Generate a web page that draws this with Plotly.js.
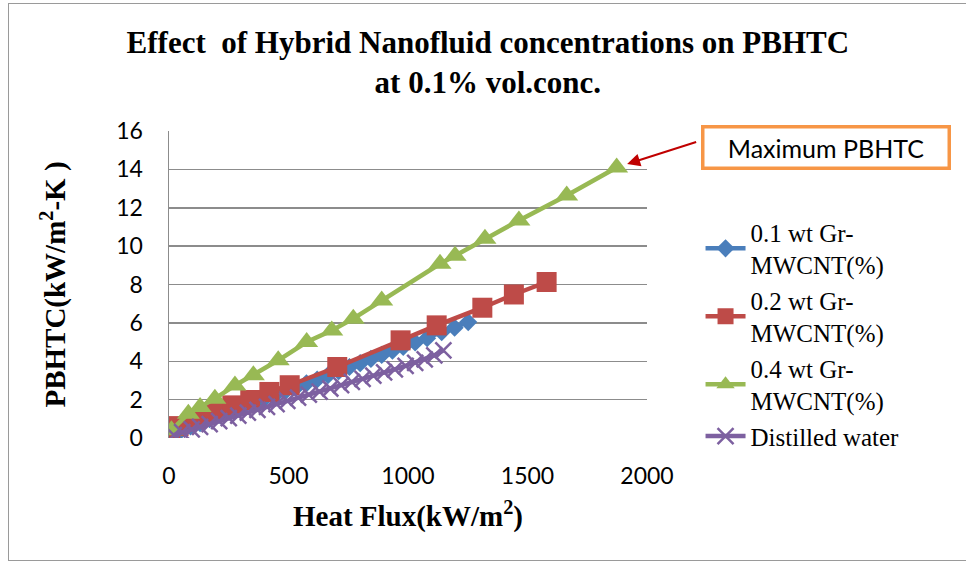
<!DOCTYPE html>
<html>
<head>
<meta charset="utf-8">
<script src="https://cdn.plot.ly/plotly-3.0.1.min.js"></script>
<style>
  body { margin: 0; padding: 0; background: #fff; }
  #chart { width: 966px; height: 563px; position: relative; }
  #frame { position: absolute; left: 8px; top: 3px; width: 966px; height: 558px;
           border-left: 1.5px solid #9a9a9a; border-top: 1.5px solid #9a9a9a; border-bottom: 1.5px solid #9a9a9a;
           pointer-events: none; box-sizing: border-box; }
</style>
</head>
<body>
<div id="chart"></div>
<div id="frame"></div>
<script>
// 0.1 wt Gr-MWCNT(%)
const blueX = [15, 50, 90, 130, 170, 215, 260, 305, 350, 395, 440, 485, 530, 575, 620, 665, 710, 755, 800, 845, 890, 935, 980, 1030, 1080, 1141, 1195, 1252];
const blueY = [0.25, 0.4, 0.6, 0.78, 0.98, 1.18, 1.38, 1.58, 1.78, 2.0, 2.2, 2.42, 2.62, 2.85, 3.05, 3.27, 3.48, 3.7, 3.9, 4.12, 4.33, 4.55, 4.75, 4.98, 5.2, 5.52, 5.75, 6.04];
// 0.2 wt Gr-MWCNT(%)
const redX = [5, 40, 110, 190, 265, 340, 420, 505, 704, 969, 1120, 1311, 1443, 1580];
const redY = [0.35, 0.62, 1.0, 1.35, 1.7, 1.98, 2.4, 2.75, 3.7, 5.09, 5.87, 6.79, 7.48, 8.13];
// 0.4 wt Gr-MWCNT(%)
const greenX = [10, 81, 130, 192, 276, 353, 457, 576, 681, 771, 890, 1134, 1197, 1322, 1464, 1664, 1873];
const greenY = [0.4, 1.27, 1.62, 2.05, 2.74, 3.27, 4.05, 5.0, 5.6, 6.22, 7.17, 9.08, 9.5, 10.38, 11.34, 12.64, 14.1];
// Distilled water
const purpleX = [20, 55, 95, 130, 170, 210, 250, 290, 330, 370, 410, 450, 495, 540, 585, 630, 675, 720, 765, 810, 855, 900, 945, 990, 1030, 1070, 1110, 1148];
const purpleY = [0.15, 0.3, 0.45, 0.58, 0.72, 0.88, 1.03, 1.17, 1.32, 1.47, 1.62, 1.77, 1.93, 2.1, 2.26, 2.42, 2.58, 2.75, 2.92, 3.08, 3.25, 3.42, 3.58, 3.76, 3.92, 4.1, 4.3, 4.57];

const seriesNames = ["0.1 wt Gr-<br>MWCNT(%)", "0.2 wt Gr-<br>MWCNT(%)", "0.4 wt Gr-<br>MWCNT(%)", "Distilled water"];
const xTickVals = [0, 500, 1000, 1500, 2000];
const yTickVals = [0, 2, 4, 6, 8, 10, 12, 14, 16];

const traces = [
  { x: blueX, y: blueY, name: seriesNames[0], mode: 'lines+markers',
    line: { color: '#4A7EBB', width: 4.5 },
    marker: { symbol: 'diamond', size: 14, color: '#4A7EBB' } },
  { x: redX, y: redY, name: seriesNames[1], mode: 'lines+markers',
    line: { color: '#BE4B48', width: 4.5 },
    marker: { symbol: 'square', size: 20, color: '#BE4B48' } },
  { x: greenX, y: greenY, name: seriesNames[2], mode: 'lines+markers',
    line: { color: '#98B954', width: 4.5 },
    marker: { symbol: 'triangle-up', size: 20, color: '#98B954' } },
  { x: purpleX, y: purpleY, name: seriesNames[3], mode: 'lines+markers',
    line: { color: '#7D60A0', width: 4.5 },
    marker: { symbol: 'x-thin', size: 16, color: '#7D60A0', line: { color: '#7D60A0', width: 2.5 } } }
];

const layout = {
  width: 966, height: 563,
  margin: { l: 169, r: 319, t: 131, b: 125 },
  paper_bgcolor: '#fff', plot_bgcolor: '#fff',
  showlegend: true,
  title: {
    text: '<b>Effect&nbsp; of Hybrid Nanofluid concentrations on PBHTC<br>at 0.1% vol.conc.</b>',
    font: { family: 'Liberation Serif', size: 31, color: '#000' },
    x: 0.505, xanchor: 'center', y: 0.906, yanchor: 'top'
  },
  xaxis: {
    range: [0, 2000], tickvals: xTickVals, ticks: 'outside', ticklen: 17, tickcolor: 'rgba(0,0,0,0)',
    showgrid: false, zeroline: false, showline: false,
    tickfont: { family: 'Lato', size: 23, color: '#000' },
    title: { text: '<b>Heat Flux(kW/m<sup>2</sup>)</b>', font: { family: 'Liberation Serif', size: 29, color: '#000' }, standoff: 18 }
  },
  yaxis: {
    range: [0, 16], tickvals: yTickVals, ticks: 'outside', ticklen: 20, tickcolor: 'rgba(0,0,0,0)',
    showgrid: true, gridcolor: '#8c8c8c', gridwidth: 1.5,
    zeroline: false, showline: true, linecolor: '#8c8c8c', linewidth: 1.5,
    tickfont: { family: 'Lato', size: 23, color: '#000' },
    title: { text: '<b>PBHTC(kW/m<sup>2</sup>-K )</b>', font: { family: 'Liberation Serif', size: 29, color: '#000' }, standoff: 42 }
  },
  legend: {
    x: 1.112, xanchor: 'left', y: 0.745, yanchor: 'top',
    font: { family: 'Liberation Serif', size: 25, color: '#000' },
    bgcolor: 'rgba(0,0,0,0)', tracegroupgap: 0, itemwidth: 40
  },
  annotations: [
    { xref: 'x', yref: 'y', x: greenX[greenX.length - 1], y: greenY[greenY.length - 1],
      ax: 81, ay: -26, text: '', showarrow: true, arrowhead: 2, arrowsize: 1.3,
      arrowwidth: 2, arrowcolor: '#C00000', standoff: 11 },
    { xref: 'paper', yref: 'paper', x: 1.112, y: 0.946, xanchor: 'left', yanchor: 'middle',
      text: 'Maximum PBHTC', showarrow: false,
      font: { family: 'Lato', size: 25, color: '#000' },
      bordercolor: '#F79646', borderwidth: 3.5, bgcolor: '#fff', borderpad: 4,
      width: 235, height: 30 }
  ]
};

Plotly.newPlot('chart', traces, layout, { displayModeBar: false, staticPlot: true });
</script>
</body>
</html>
